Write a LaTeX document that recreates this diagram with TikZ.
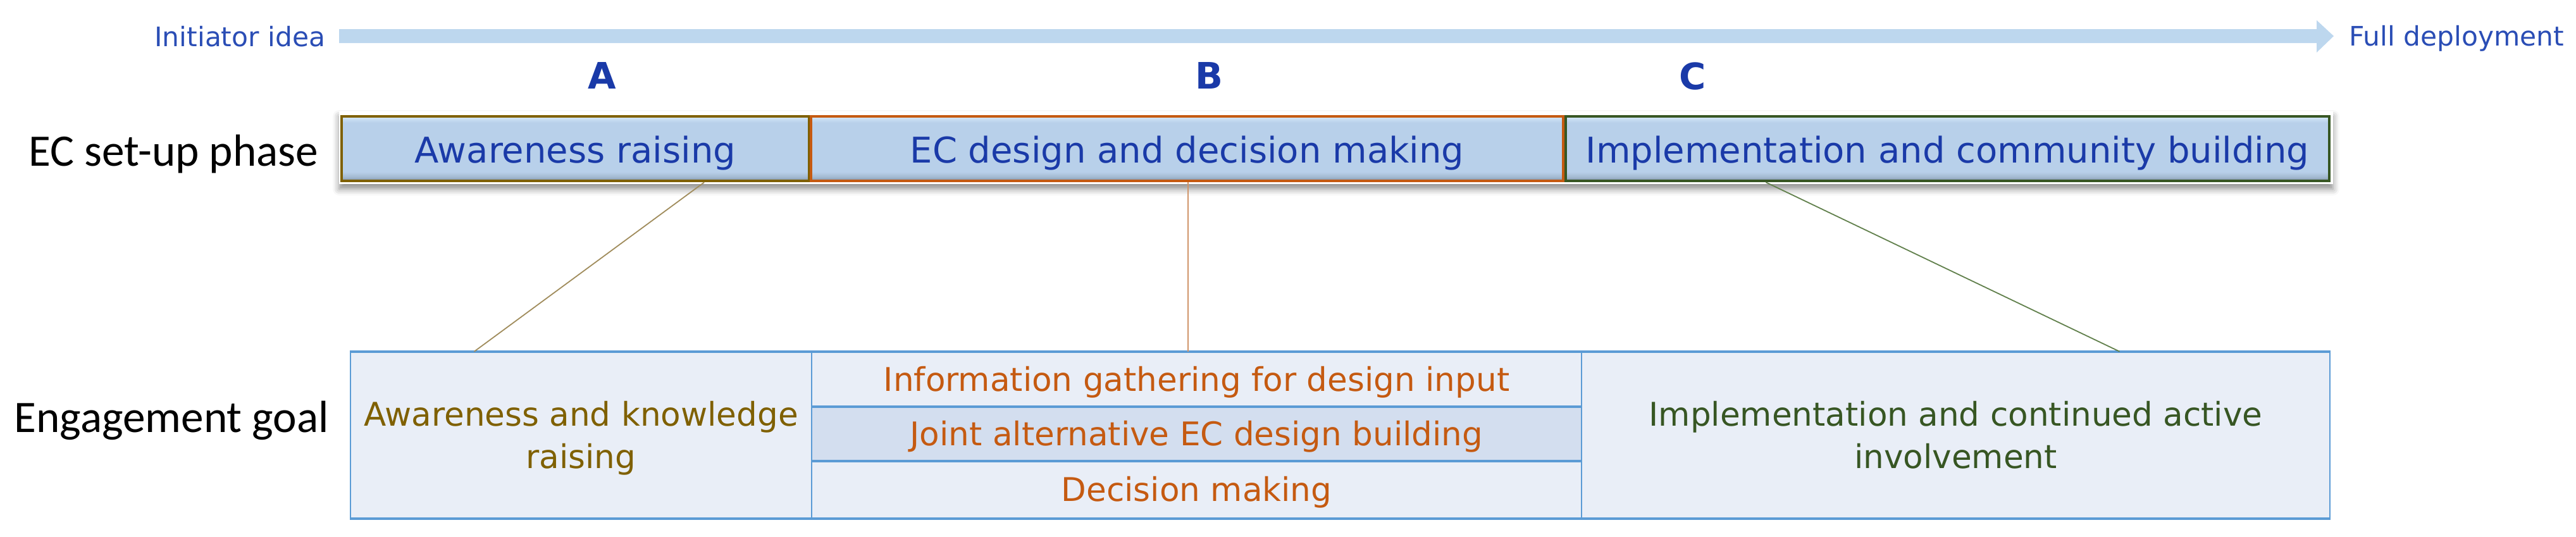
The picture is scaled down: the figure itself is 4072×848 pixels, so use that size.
\documentclass[tikz,border=0pt]{standalone}
\usepackage{fontspec}
\usetikzlibrary{calc,shadows.blur}
\newfontfamily\verd{DejaVu Sans}
\newfontfamily\calib{Carlito}
\definecolor{tblue}{HTML}{1A3AA8}
\definecolor{lblue}{HTML}{2A4DB5}
\definecolor{arrowfill}{HTML}{BDD7EE}
\definecolor{olive}{HTML}{7F6000}
\definecolor{orng}{HTML}{C55A11}
\definecolor{dgreen}{HTML}{375623}
\definecolor{tabfill}{HTML}{E9EEF7}
\definecolor{tabmid}{HTML}{D3DEEF}
\definecolor{tabline}{HTML}{5B9BD5}
\definecolor{pdark}{HTML}{7D90A6}
\definecolor{pmid}{HTML}{A3B9D0}
\definecolor{pbase}{HTML}{B8D0EA}
\definecolor{plight}{HTML}{CFE3F6}
\definecolor{linkA}{HTML}{A08C5C}
\definecolor{linkB}{HTML}{D0956A}
\definecolor{linkC}{HTML}{61804C}
\pgfdeclareverticalshading{phaseshade}{100bp}{color(0bp)=(pdark); color(25bp)=(pdark); color(28bp)=(pmid); color(32bp)=(pbase); color(70bp)=(pbase); color(74bp)=(plight); color(100bp)=(plight)}
\tikzset{
  phase/.style={draw=#1, line width=1.1pt, shading=phaseshade, text=tblue,
    font=\verd\fontsize{14}{16}\selectfont, inner sep=0pt,
    text height=11pt, text depth=0pt, minimum height=25.5pt},
  cell/.style={draw=tabline, line width=0.6pt, fill=tabfill, inner sep=0pt,
    font=\verd\fontsize{12.9}{16.75}\selectfont, align=center},
  onecell/.style={cell, text height=9.5pt, text depth=0pt, minimum width=304.25pt, text=orng},
  toplabel/.style={text=lblue, font=\verd\fontsize{10.6}{12}\selectfont, inner sep=0pt},
  letter/.style={text=tblue, font=\verd\bfseries\fontsize{14.4}{16}\selectfont, inner sep=0pt},
  rowlabel/.style={font=\calib\fontsize{17.8}{20}\selectfont, inner sep=0pt},
  link/.style={line width=0.45pt},
  hline/.style={draw=tabline, line width=1.1pt}
}
\begin{document}
\begin{tikzpicture}[x=0.25pt,y=-0.25pt]
\useasboundingbox (0,0) rectangle (4072,848);
% timeline
\node[toplabel, anchor=base east] (init) at (515,73) {Initiator idea};
\node[toplabel, anchor=base west] (full) at (3713,72) {Full deployment};
\fill[arrowfill] (536,46) -- (3662,46) -- (3662,32) -- (3689,57) -- (3662,83) -- (3662,68) -- (536,68) -- cycle;
% letters
\node[letter, anchor=base] (lA) at (952,140) {A};
\node[letter, anchor=base] (lB) at (1911,140) {B};
\node[letter, anchor=base] (lC) at (2676,141) {C};
% row labels
\node[rowlabel, anchor=base west] (lphase) at (45,262) {EC set-up phase};
\node[rowlabel, anchor=base west] (lgoal) at (22,683) {Engagement goal};
% phase strip
\path[fill=white, blur shadow={shadow xshift=0pt, shadow yshift=-2pt, shadow blur radius=2.5pt, shadow opacity=45}] (536,176) rectangle (3688,291);
\node[phase=olive, minimum width=184.75pt] (pA) at (909.5,235) {Awareness raising};
\node[phase=orng, minimum width=297.25pt] (pB) at (1876.5,235) {EC design and decision making};
\node[phase=dgreen, minimum width=301.75pt] (pC) at (3078.5,235) {Implementation and community building};
% table
\node[cell, minimum width=182.25pt, minimum height=65.5pt, text=olive] (ta) at (918.5,688) {\rule{0pt}{12.25pt}Awareness and knowledge\\raising};
\node[onecell, minimum height=21.25pt] (tb1) at (1891.5,599.5) {Information gathering for design input};
\node[onecell, fill=tabmid, minimum height=21.5pt] (tb2) at (1891.5,685) {Joint alternative EC design building};
\node[onecell, minimum height=22.75pt] (tb3) at (1891.5,773.5) {Decision making};
\node[cell, minimum width=295.75pt, minimum height=65.5pt, text=dgreen] (tc) at (3091.5,688) {Implementation and continued active\\involvement};
\draw[hline] (ta.north west) -- (tc.north east);
\draw[hline] (ta.south west) -- (tc.south east);
\draw[hline] (tb1.south west) -- (tb1.south east);
\draw[hline] (tb2.south west) -- (tb2.south east);
% connectors
\draw[link, draw=linkA] ($(pA.south west)!0.774!(pA.south east)$) -- ($(ta.north west)!0.269!(ta.north east)$);
\draw[link, draw=linkB] ([xshift=0.4pt]pB.south) -- ([xshift=0.4pt]pB.south |- tb1.north);
\draw[link, draw=linkC] ($(pC.south west)!0.263!(pC.south east)$) -- ($(tc.north west)!0.7185!(tc.north east)$);
\end{tikzpicture}
\end{document}
